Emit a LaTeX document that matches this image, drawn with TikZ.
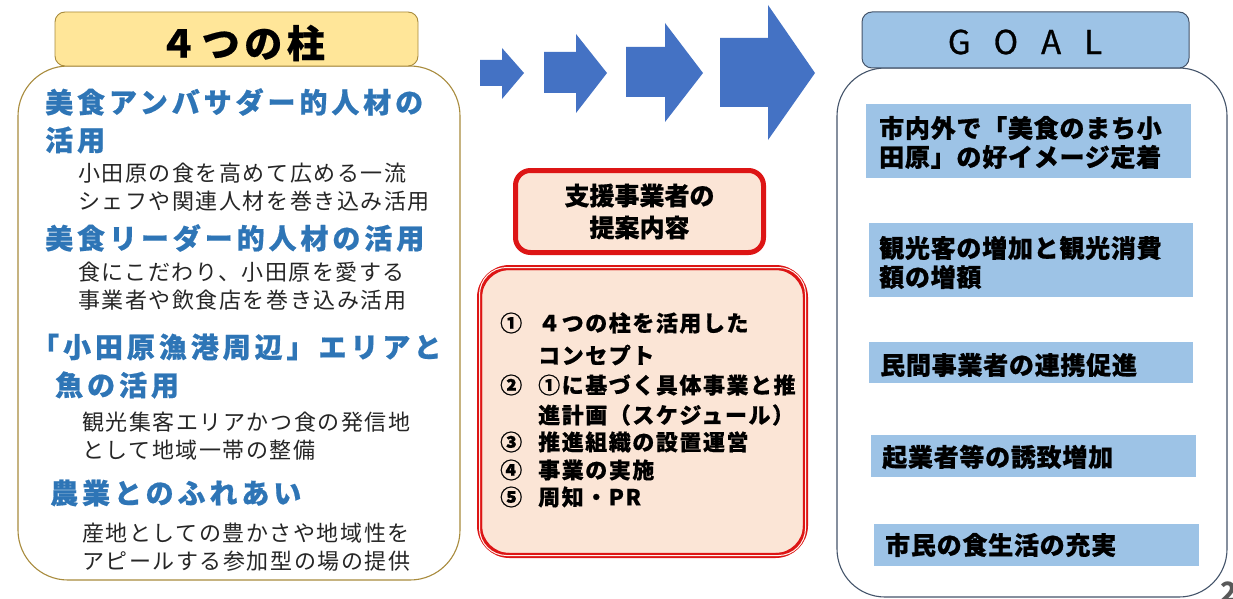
\documentclass[tikz,border=0pt]{standalone}
\usepackage{fontspec}
\setmainfont{Noto Sans CJK JP}
\definecolor{headblue}{HTML}{2E75B6}
\definecolor{bodygray}{HTML}{262626}
\definecolor{arrowblue}{HTML}{4472C4}
\definecolor{hdryellow}{HTML}{FFE699}
\definecolor{hdrgold}{HTML}{A88B3C}
\definecolor{peach}{HTML}{FBE5D6}
\definecolor{boxred}{HTML}{DD1515}
\definecolor{goalblue}{HTML}{9DC3E6}
\definecolor{slate}{HTML}{44546A}
\tikzset{
  head/.style={anchor=west, inner sep=0pt, text=headblue, font=\fontsize{28}{28}\selectfont\bfseries\addfontfeature{LetterSpace=14,FakeBold=0.6}},
  body/.style={anchor=west, inner sep=0pt, text=bodygray, font=\fontsize{22}{22}\selectfont\addfontfeature{LetterSpace=7}},
  redtxt/.style={anchor=west, inner sep=0pt, text=black, font=\fontsize{22}{22}\selectfont\bfseries\addfontfeature{LetterSpace=7,FakeBold=0.5}},
  goaltxt/.style={anchor=west, inner sep=0pt, text=black, font=\fontsize{25}{25}\selectfont\bfseries\addfontfeature{LetterSpace=3,FakeBold=0.8}},
  goalbar/.style={fill=goalblue, draw=none, inner sep=0pt},
  bigarrow/.style={fill=arrowblue, draw=none},
}
\begin{document}
\begin{tikzpicture}[x=1pt,y=-1pt]
\useasboundingbox (0,0) rectangle (1233,599);
\fill[white] (0,0) rectangle (1233,599);

% left panel
\node[draw=hdrgold, line width=1.1pt, fill=white, rounded corners=50pt, minimum width=442pt, minimum height=514pt, inner sep=0pt] (leftbox) at (239,323) {};
\node[draw=hdrgold, line width=0.9pt, fill=hdryellow, rounded corners=10pt, minimum width=363pt, minimum height=54pt, inner sep=0pt] (lefthdr) at (236.5,39) {};
\node[inner sep=0pt, font=\fontsize{38}{38}\selectfont\bfseries\addfontfeature{LetterSpace=12,FakeBold=0.5}] (lefthdrtxt) at (242,43) {４つの柱};

\node[head] (h1a) at (45,102) {美食アンバサダー的人材の};
\node[head] (h1b) at (45,140) {活用};
\node[body] (b1a) at (78,173) {小田原の食を高めて広める一流};
\node[body] (b1b) at (78,201) {シェフや関連人材を巻き込み活用};
\node[head] (h2) at (45,238) {美食リーダー的人材の活用};
\node[body] (b2a) at (78,272) {食にこだわり、小田原を愛する};
\node[body] (b2b) at (78,300) {事業者や飲食店を巻き込み活用};
\node[head] (h3a) at (31,347) {「小田原漁港周辺」エリアと};
\node[head] (h3b) at (55,385) {魚の活用};
\node[body] (b3a) at (82,422) {観光集客エリアかつ食の発信地};
\node[body] (b3b) at (82,450) {として地域一帯の整備};
\node[head] (h4) at (50,493) {農業とのふれあい};
\node[body] (b4a) at (82,533) {産地としての豊かさや地域性を};
\node[body] (b4b) at (82,561) {アピールする参加型の場の提供};

% arrows
\fill[bigarrow] (480,60) -- (502,60) -- (502,48) -- (524,73) -- (502,99) -- (502,86) -- (480,86) -- cycle;
\fill[bigarrow] (544,52) -- (576,52) -- (576,34) -- (607,73) -- (576,113) -- (576,93) -- (544,93) -- cycle;
\fill[bigarrow] (626,47) -- (665,47) -- (665,23) -- (703,73) -- (665,122) -- (665,97) -- (626,97) -- cycle;
\fill[bigarrow] (720,38) -- (768,38) -- (768,5) -- (815,73) -- (768,140) -- (768,107) -- (720,107) -- cycle;

% center boxes
\node[draw=boxred, line width=5pt, fill=peach, rounded corners=15pt, minimum width=248pt, minimum height=82pt, inner sep=0pt, align=center, font=\fontsize{25}{32}\selectfont\bfseries\addfontfeature{FakeBold=0.5}] (prop) at (639.5,211.5) {支援事業者の\\提案内容};

\node[draw=boxred, line width=5pt, fill=peach, rounded corners=30pt, minimum width=326pt, minimum height=288pt, inner sep=0pt] (list) at (642.5,411.5) {};
\draw[boxred, line width=1.3pt, rounded corners=25pt] ([shift={(4.5,4.5)}]list.north west) rectangle ([shift={(-4.5,-4.5)}]list.south east);
\draw[white!60!peach, line width=1pt, rounded corners=27pt] ([shift={(2.5,2.5)}]list.north west) rectangle ([shift={(-2.5,-2.5)}]list.south east);

\node[redtxt] (n1) at (500,323) {①};
\node[redtxt] (t1a) at (538,323) {４つの柱を活用した};
\node[redtxt] (t1b) at (538,355) {コンセプト};
\node[redtxt] (n2) at (500,385) {②};
\node[redtxt] (t2a) at (538,385) {①に基づく具体事業と推};
\node[redtxt] (t2b) at (538,415) {進計画（スケジュール）};
\node[redtxt] (n3) at (500,442) {③};
\node[redtxt] (t3) at (538,442) {推進組織の設置運営};
\node[redtxt] (n4) at (500,470) {④};
\node[redtxt] (t4) at (538,470) {事業の実施};
\node[redtxt] (n5) at (500,497) {⑤};
\node[redtxt] (t5) at (538,497) {周知・PR};

% right panel
\node[draw=slate, line width=1.1pt, fill=white, rounded corners=48pt, minimum width=390pt, minimum height=529pt, inner sep=0pt] (rightbox) at (1032,332.5) {};
\node[draw=slate, line width=1pt, fill=goalblue, rounded corners=10pt, minimum width=327pt, minimum height=56pt, inner sep=0pt] (goalhdr) at (1025.5,40) {};
\node[inner sep=0pt, font=\fontsize{33}{33}\selectfont\addfontfeature{FakeBold=0.8}] (goaltitle) at (1025,42) {G\hspace{23pt}O\hspace{23pt}A\hspace{23pt}L};

\node[goalbar, minimum width=325pt, minimum height=74pt] (g1) at (1028.5,141) {};
\node[goalbar, minimum width=324pt, minimum height=74pt] (g2) at (1031,260) {};
\node[goalbar, minimum width=324pt, minimum height=41pt] (g3) at (1031,362.5) {};
\node[goalbar, minimum width=325pt, minimum height=42pt] (g4) at (1033.5,456) {};
\node[goalbar, minimum width=325pt, minimum height=42pt] (g5) at (1036.5,545) {};

\node[goaltxt] (g1a) at (879,128) {市内外で「美食のまち小};
\node[goaltxt] (g1b) at (879,157) {田原」の好イメージ定着};
\node[goaltxt] (g2a) at (879,248) {観光客の増加と観光消費};
\node[goaltxt] (g2b) at (879,277) {額の増額};
\node[goaltxt] (g3t) at (880,365) {民間事業者の連携促進};
\node[goaltxt] (g4t) at (882,457) {起業者等の誘致増加};
\node[goaltxt] (g5t) at (885,545) {市民の食生活の充実};

% page number (cut off at the edge, as in the reference)
\node[anchor=north west, inner sep=0pt, text=black!65, font=\fontsize{28}{28}\selectfont\bfseries] (pagenum) at (1220,582) {2};
\end{tikzpicture}
\end{document}
